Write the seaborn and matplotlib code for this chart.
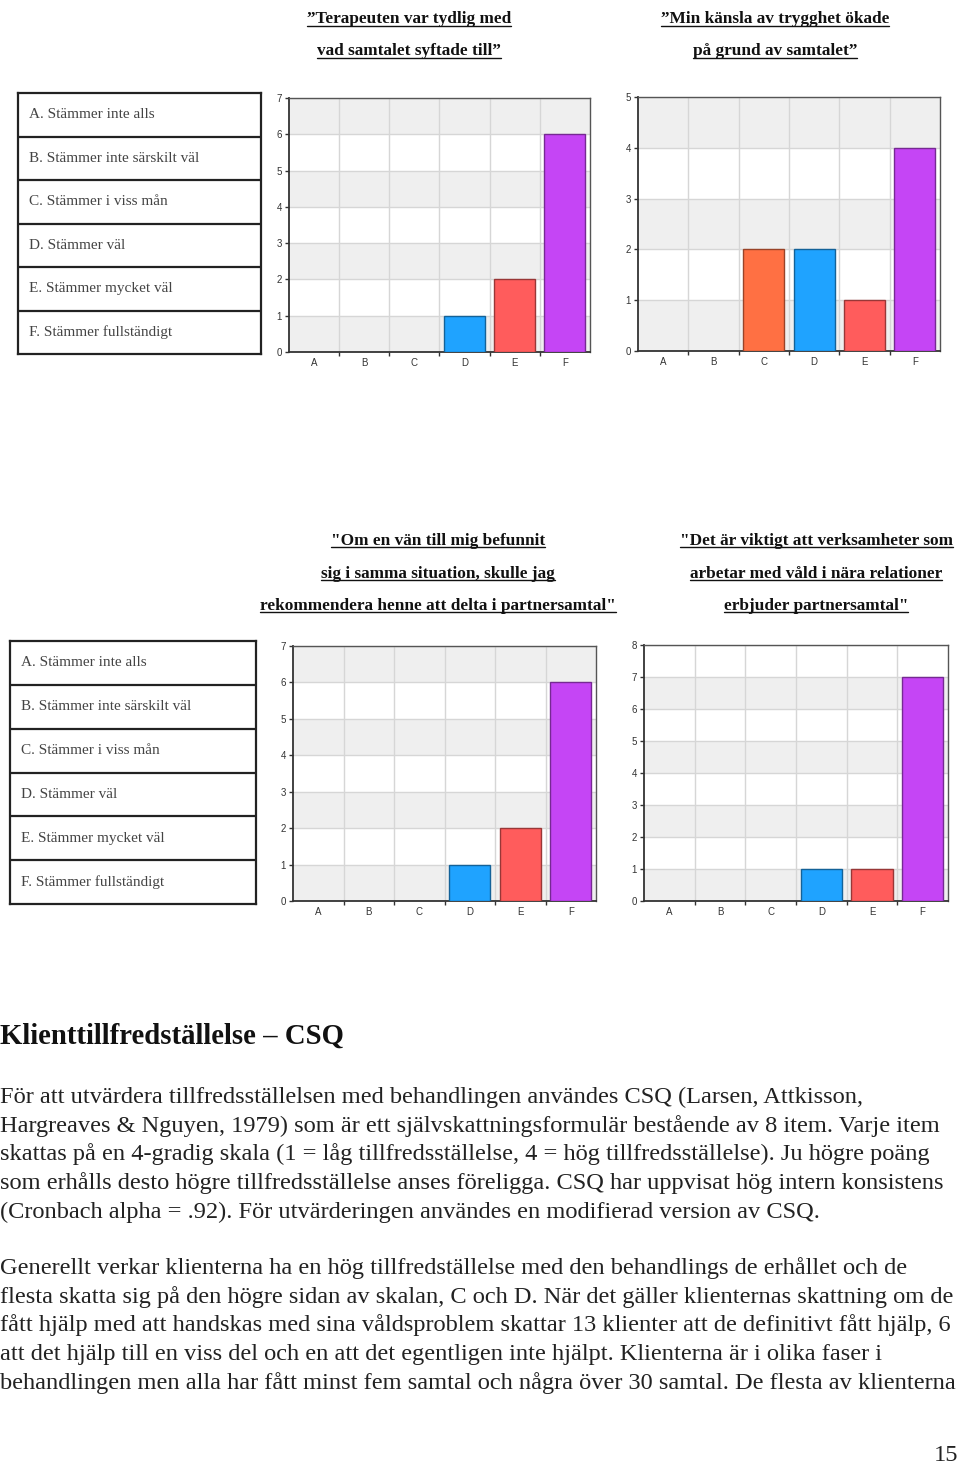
import matplotlib
matplotlib.use("Agg")
import matplotlib.pyplot as plt
import matplotlib.colors as mcolors
from matplotlib.lines import Line2D
import seaborn as sns
import pandas as pd

# svarsalternativ och antal svar per fråga
categories = ['A', 'B', 'C', 'D', 'E', 'F']
answer_labels = ['A. Stämmer inte alls', 'B. Stämmer inte särskilt väl',
                 'C. Stämmer i viss mån', 'D. Stämmer väl',
                 'E. Stämmer mycket väl', 'F. Stämmer fullständigt']

tydlig = [0, 0, 0, 1, 2, 6]
trygghet = [0, 0, 2, 2, 1, 4]
rekommendera = [0, 0, 0, 1, 2, 6]
viktigt = [0, 0, 0, 1, 1, 7]

title_tydlig = ['\u201dTerapeuten var tydlig med', 'vad samtalet syftade till\u201d']
title_trygghet = ['\u201dMin känsla av trygghet ökade', 'på grund av samtalet\u201d']
title_rekommendera = ['"Om en vän till mig befunnit', 'sig i samma situation, skulle jag',
                      'rekommendera henne att delta i partnersamtal"']
title_viktigt = ['"Det är viktigt att verksamheter som', 'arbetar med våld i nära relationer',
                 'erbjuder partnersamtal"']

heading = 'Klienttillfredställelse \u2013 CSQ'
para1 = ['För att utvärdera tillfredsställelsen med behandlingen användes CSQ (Larsen, Attkisson,',
         'Hargreaves & Nguyen, 1979) som är ett självskattningsformulär bestående av 8 item. Varje item',
         'skattas på en 4-gradig skala (1 = låg tillfredsställelse, 4 = hög tillfredsställelse). Ju högre poäng',
         'som erhålls desto högre tillfredsställelse anses föreligga. CSQ har uppvisat hög intern konsistens',
         '(Cronbach alpha = .92). För utvärderingen användes en modifierad version av CSQ.']
para2 = ['Generellt verkar klienterna ha en hög tillfredställelse med den behandlings de erhållet och de',
         'flesta skatta sig på den högre sidan av skalan, C och D. När det gäller klienternas skattning om de',
         'fått hjälp med att handskas med sina våldsproblem skattar 13 klienter att de definitivt fått hjälp, 6',
         'att det hjälp till en viss del och en att det egentligen inte hjälpt. Klienterna är i olika faser i',
         'behandlingen men alla har fått minst fem samtal och några över 30 samtal. De flesta av klienterna']
page_no = '15'

palette = {'A': '#9C9C9C', 'B': '#FFB04A', 'C': '#FF7043', 'D': '#1FA3FF',
           'E': '#FF5C5C', 'F': '#C545F5'}

sns.set_style('white')
plt.rcParams['font.family'] = ['Liberation Serif', 'DejaVu Serif']

W, H = 960, 1467
fig = plt.figure(figsize=(9.6, 14.67), dpi=100)


def fx(px):
    return px / W


def fy(py):
    return 1 - py / H


def bar_chart(x0, y0, x1, y1, values, ymax):
    ax = fig.add_axes([fx(x0), fy(y1), (x1 - x0) / W, (y1 - y0) / H])
    df = pd.DataFrame({'svar': categories, 'antal': values})
    sns.barplot(data=df, x='svar', y='antal', hue='svar', palette=palette,
                saturation=1, legend=False, width=0.82, ax=ax, zorder=3)
    for p in ax.patches:
        if p.get_height() == 0:
            p.set_visible(False)
        fc = mcolors.to_rgb(p.get_facecolor())
        p.set_edgecolor(tuple(c * 0.6 for c in fc))
        p.set_linewidth(1)
    for k in range(0, ymax, 2):
        ax.axhspan(k, k + 1, color='#EFEFEF', lw=0, zorder=0)
    ax.set_xlim(-0.5, len(categories) - 0.5)
    ax.set_ylim(0, ymax)
    ax.set_yticks(range(ymax + 1))
    ax.set_xticks([i + 0.5 for i in range(len(categories) - 1)], minor=True)
    ax.set_axisbelow(True)
    ax.yaxis.grid(True, color='#D6D6D6', lw=1)
    ax.xaxis.grid(True, which='minor', color='#D6D6D6', lw=1)
    ax.xaxis.grid(False, which='major')
    ax.set_xlabel('')
    ax.set_ylabel('')
    ax.tick_params(axis='x', which='major', length=0, pad=4, labelsize=7, labelcolor='#333333')
    ax.tick_params(axis='x', which='minor', length=3, width=1, color='#333333',
                   direction='out', bottom=True)
    ax.tick_params(axis='y', length=3, width=1, color='#333333', pad=2, labelsize=7,
                   labelcolor='#333333', left=True)
    for lab in ax.get_xticklabels() + ax.get_yticklabels():
        lab.set_family('Liberation Sans')
    for s in ['left', 'bottom']:
        ax.spines[s].set_color('#333333')
        ax.spines[s].set_linewidth(1.3)
    for s in ['top', 'right']:
        ax.spines[s].set_color('#555555')
        ax.spines[s].set_linewidth(1)
    return ax


def legend_box(x0, y0, x1, y1, text_x):
    ax = fig.add_axes([fx(x0), fy(y1), (x1 - x0) / W, (y1 - y0) / H])
    ax.set_xlim(x0, x1)
    ax.set_ylim(len(answer_labels), 0)
    for i in range(1, len(answer_labels)):
        ax.axhline(i, color='#222222', lw=1.6)
    for i, lab in enumerate(answer_labels):
        ax.text(text_x, i + 0.5, lab, va='center', ha='left', fontsize=11, color='#444444')
    ax.set_xticks([])
    ax.set_yticks([])
    for s in ax.spines.values():
        s.set_color('#222222')
        s.set_linewidth(1.6)


titles = []


def chart_title(xc, baselines, lines):
    for yb, line in zip(baselines, lines):
        t = fig.text(fx(xc), fy(yb), line, ha='center', va='baseline',
                     fontsize=12.4, fontweight='bold', color='#111111')
        titles.append((t, yb))


bar_chart(289, 98, 590, 352, tydlig, 7)
bar_chart(638, 97, 940, 351, trygghet, 5)
bar_chart(293, 646, 596, 901, rekommendera, 7)
bar_chart(644, 645, 948, 901, viktigt, 8)

legend_box(18, 93, 261, 354, 29)
legend_box(10, 641, 256, 904, 21)

chart_title(409, [23, 55], title_tydlig)
chart_title(775, [23, 55], title_trygghet)
chart_title(438, [545, 578, 610], title_rekommendera)
chart_title(816, [545, 578, 610], title_viktigt)

fig.text(0, fy(1044), heading, ha='left', va='baseline', fontsize=20.7,
         fontweight='bold', color='#111111')
for i, line in enumerate(para1):
    fig.text(0, fy(1103 + i * 28.7), line, ha='left', va='baseline', fontsize=17.6, color='#222222')
for i, line in enumerate(para2):
    fig.text(0, fy(1274 + i * 28.7), line, ha='left', va='baseline', fontsize=17.6, color='#222222')
fig.text(fx(958), fy(1461), page_no, ha='right', va='baseline', fontsize=17.6, color='#222222')

fig.canvas.draw()
renderer = fig.canvas.get_renderer()
for t, yb in titles:
    bb = t.get_window_extent(renderer)
    fig.add_artist(Line2D([bb.x0 / W, bb.x1 / W], [fy(yb + 2.5)] * 2,
                          transform=fig.transFigure, color='#111111', lw=1))

fig.savefig('out.png', dpi=100)
